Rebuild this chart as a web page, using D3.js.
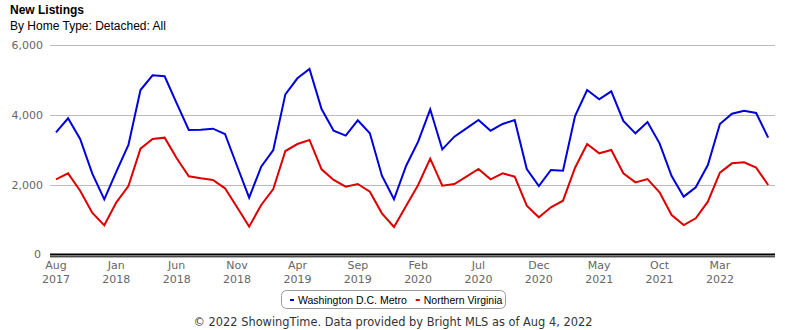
<!DOCTYPE html>
<html><head><meta charset="utf-8">
<script src="https://cdn.jsdelivr.net/npm/d3@7"></script>
<style>body{margin:0;background:#fff}svg{display:block}</style>
</head><body>
<svg id="c" width="785" height="330"></svg>
<script>
const months = ["Aug","Sep","Oct","Nov","Dec","Jan","Feb","Mar","Apr","May","Jun","Jul"];
const startYear = 2017;
const seriesNames = ["Washington D.C. Metro","Northern Virginia"];
const seriesColors = ["#0000dd","#dd0000"];
const dcMetro = [3506,3906,3314,2334,1591,2380,3143,4714,5134,5106,4334,3571,
  3580,3609,3457,2543,1638,2524,3000,4591,5048,5314,4171,3552,
  3410,3848,3476,2267,1591,2543,3238,4162,3019,3381,3619,3857,
  3552,3743,3857,2457,1971,2429,2410,3971,4714,4448,4676,3829,
  3476,3800,3190,2257,1667,1933,2571,3743,4038,4124,4057,3352];
const northVa = [2162,2334,1838,1210,848,1505,1971,3038,3314,3352,2762,2248,
  2190,2143,1905,1362,810,1429,1886,2971,3171,3286,2448,2143,
  1952,2029,1810,1190,800,1400,2000,2752,1981,2029,2238,2457,
  2162,2334,2238,1410,1076,1362,1552,2495,3171,2905,3000,2334,
  2076,2171,1790,1143,857,1048,1524,2352,2619,2648,2495,2000];
const yTicks = [0,2000,4000,6000];
const tickEvery = 5;

const svg = d3.select("#c");
const x = d3.scaleLinear().domain([0, dcMetro.length-1]).range([56, 768.2]);
const y = d3.scaleLinear().domain([0, 6000]).range([255, 45]);

// title
svg.append("text").attr("x",10).attr("y",14).attr("font-family","Liberation Sans, Arial, sans-serif")
  .attr("font-size",12).attr("font-weight","bold").attr("fill","#000").text("New Listings");
svg.append("text").attr("x",10).attr("y",30).attr("font-family","Liberation Sans, Arial, sans-serif")
  .attr("font-size",12).attr("fill","#000").text("By Home Type: Detached: All");

// grid
const yAxis = d3.axisLeft(y).tickValues(yTicks).tickSize(-725).tickPadding(8).tickFormat(d3.format(","));
const ga = svg.append("g").attr("transform","translate(50,0)").call(yAxis);
ga.select(".domain").remove();
ga.selectAll(".tick line").attr("stroke","#bbbbbb").attr("stroke-width",1).attr("shape-rendering","crispEdges");
ga.selectAll(".tick text").attr("font-family","DejaVu Sans, sans-serif").attr("font-size",11).attr("fill","#666").attr("x",-7);
ga.selectAll(".tick").filter(d=>d===0).select("line").remove();
ga.selectAll(".tick").filter(d=>d===0).select("text").attr("x",-9).attr("dy","0.2em");

// baseline double
svg.append("line").attr("x1",50).attr("x2",775).attr("y1",254.5).attr("y2",254.5).attr("stroke","#000").attr("stroke-width",2);
svg.append("line").attr("x1",50).attr("x2",775).attr("y1",256.8).attr("y2",256.8).attr("stroke","#000").attr("stroke-width",1);

// x labels
const idx = d3.range(0, dcMetro.length, tickEvery);
const gx = svg.append("g");
idx.forEach(i=>{
  const m = months[i%12];
  const yr = startYear + Math.floor((i+7)/12);
  const t = gx.append("text").attr("x",x(i)).attr("text-anchor","middle")
    .attr("font-family","DejaVu Sans, sans-serif").attr("font-size",11).attr("fill","#666");
  t.append("tspan").attr("x",x(i)).attr("y",269).text(m);
  t.append("tspan").attr("x",x(i)).attr("y",283).text(yr);
});

// lines
const line = d3.line().x((d,i)=>x(i)).y(d=>y(d));
[dcMetro, northVa].forEach((s,k)=>{
  svg.append("path").datum(s).attr("d",line).attr("fill","none")
    .attr("stroke",seriesColors[k]).attr("stroke-width",2).attr("stroke-linejoin","miter");
});

// legend
const lg = svg.append("g");
lg.append("rect").attr("x",281.5).attr("y",290.5).attr("width",224).attr("height",18).attr("rx",5)
  .attr("fill","#fff").attr("stroke","#999");
let lx = 290;
seriesNames.forEach((n,k)=>{
  lg.append("rect").attr("x",lx).attr("y",299).attr("width",4).attr("height",2).attr("fill",seriesColors[k]);
  const t = lg.append("text").attr("x",lx+8).attr("y",303.5).attr("font-family","Liberation Sans, Arial, sans-serif")
    .attr("font-size",10.5).attr("fill","#000").text(n);
  lx += 8 + t.node().getComputedTextLength() + 9;
});

// footer
svg.append("text").attr("x",393).attr("y",326).attr("text-anchor","middle")
  .attr("font-family","DejaVu Sans, sans-serif").attr("font-size",11.4).attr("fill","#333")
  .text("© 2022 ShowingTime. Data provided by Bright MLS as of Aug 4, 2022");
</script>
</body></html>
